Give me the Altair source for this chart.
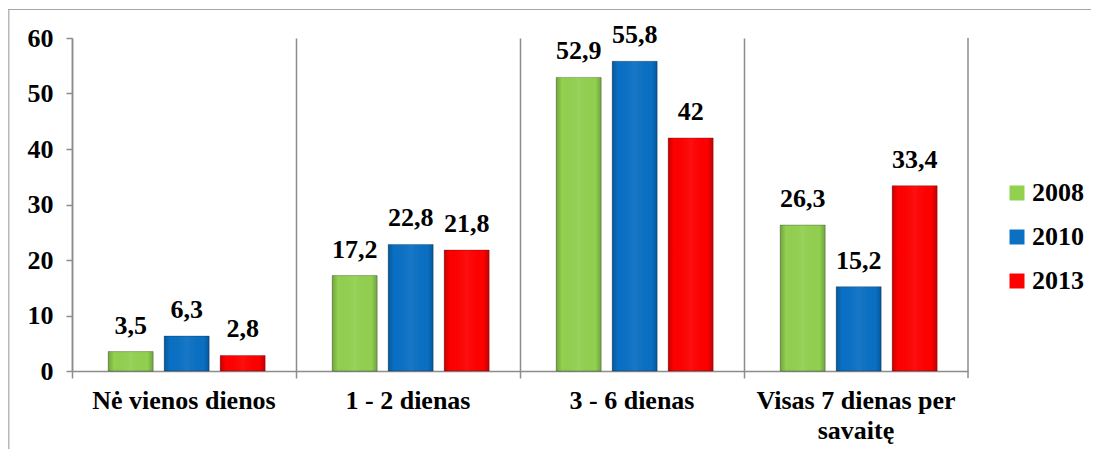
import altair as alt
import pandas as pd

categories = ["Nė vienos dienos", "1 - 2 dienas", "3 - 6 dienas", "Visas 7 dienas per|savaitę"]
years = ["2008", "2010", "2013"]
v2008 = [3.5, 17.2, 52.9, 26.3]
v2010 = [6.3, 22.8, 55.8, 15.2]
v2013 = [2.8, 21.8, 42, 33.4]
colors = ["#92D050", "#0A70C4", "#FF0000"]
y_ticks = [0, 10, 20, 30, 40, 50, 60]

rows = []
for yr, vals in zip(years, [v2008, v2010, v2013]):
    for c, v in zip(categories, vals):
        rows.append({"cat": c, "year": yr, "value": v})
df = pd.DataFrame(rows)

W, H = 896, 333
PL, PT = 64, 30
TOTW, TOTH = 1083, 441
FONT = "Liberation Serif"
FS = 26
GRAY = "#8C8C8C"

x_enc = alt.X("cat:N", sort=categories, scale=alt.Scale(paddingInner=0, paddingOuter=0),
              axis=alt.Axis(title=None, labelAngle=0, bandPosition=0, grid=True, gridColor=GRAY,
                            gridWidth=1.5, domainColor=GRAY, domainWidth=1.5, tickColor=GRAY,
                            tickWidth=1.5, tickSize=7, labelPadding=9, labelFont=FONT,
                            labelFontSize=FS, labelFontWeight="bold", labelColor="black",
                            labelLimit=400, labelLineHeight=30,
                            labelExpr="split(datum.value, '|')"))
xoff = alt.XOffset("year:N", sort=years,
                   scale=alt.Scale(paddingInner=0.196, paddingOuter=0.598, align=0.54))
y_enc = alt.Y("value:Q", scale=alt.Scale(domain=[0, 60], nice=False),
              axis=alt.Axis(title=None, values=y_ticks, grid=False, domainColor=GRAY,
                            domainWidth=1.5, tickColor=GRAY, tickWidth=1.5, tickSize=6,
                            labelPadding=13, labelFont=FONT, labelFontSize=FS,
                            labelFontWeight="bold", labelColor="black"))

base = alt.Chart(df)

bars = base.mark_bar(stroke="rgba(0,0,0,0.25)", strokeWidth=1).encode(
    x=x_enc, xOffset=xoff, y=y_enc,
    color=alt.Color("year:N", sort=years, title=None,
                    scale=alt.Scale(domain=years, range=colors),
                    legend=alt.Legend(orient="none", legendX=932, legendY=142,
                                      symbolType="square", symbolSize=225,
                                      symbolStrokeWidth=0, labelFont=FONT,
                                      labelFontSize=FS, labelFontWeight="bold",
                                      labelColor="black", rowPadding=18, labelOffset=2)),
)

shade = base.mark_bar(
    color=alt.Gradient(
        gradient="linear", x1=0, x2=1, y1=0, y2=0,
        stops=[
            alt.GradientStop(color="rgba(0,0,0,0.22)", offset=0),
            alt.GradientStop(color="rgba(0,0,0,0.0)", offset=0.13),
            alt.GradientStop(color="rgba(255,255,255,0.06)", offset=0.5),
            alt.GradientStop(color="rgba(0,0,0,0.0)", offset=0.87),
            alt.GradientStop(color="rgba(0,0,0,0.22)", offset=1),
        ],
    )
).encode(x=alt.X("cat:N", sort=categories), xOffset=alt.XOffset("year:N", sort=years), y="value:Q")

labels = base.mark_text(font=FONT, fontSize=FS, fontWeight="bold", color="black",
                        baseline="alphabetic", dy=-18).transform_calculate(
    label="replace(toString(datum.value), '.', ',')"
).encode(x=alt.X("cat:N", sort=categories), xOffset=alt.XOffset("year:N", sort=years),
         y="value:Q", text="label:N")

one = alt.Data(values=[{"a": 1}])
right_sep = alt.Chart(one).mark_rule(color=GRAY, strokeWidth=1.5).encode(
    x=alt.value(W), y=alt.value(0), y2=alt.value(H + 7))
top_border = alt.Chart(one).mark_rule(color="#A6A6A6", strokeWidth=1.2).encode(
    x=alt.value(-PL), x2=alt.value(TOTW - PL), y=alt.value(-PT + 1.5))
left_border = alt.Chart(one).mark_rule(color="#A6A6A6", strokeWidth=1.2).encode(
    x=alt.value(-PL + 0.8), y=alt.value(-PT + 1.5), y2=alt.value(TOTH - PT))

chart = alt.layer(bars, shade, labels, right_sep, top_border, left_border).properties(
    width=W, height=H,
    autosize=alt.AutoSizeParams(type="none"),
    padding={"left": PL, "top": PT, "right": TOTW - PL - W, "bottom": TOTH - PT - H},
).configure(background="white", font=FONT).configure_view(stroke=None)

chart.save("out.html", embed_options={"renderer": "svg", "actions": False})
